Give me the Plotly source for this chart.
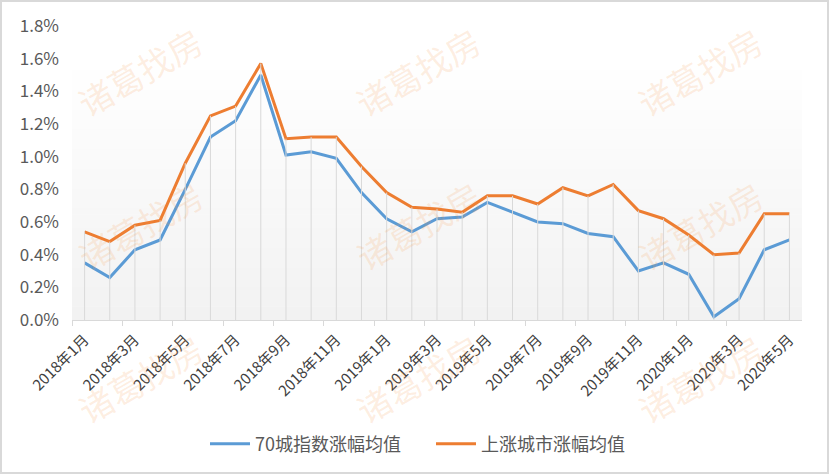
import plotly.graph_objects as go

months = ["2018年1月","2018年2月","2018年3月","2018年4月","2018年5月","2018年6月","2018年7月","2018年8月",
          "2018年9月","2018年10月","2018年11月","2018年12月","2019年1月","2019年2月","2019年3月","2019年4月",
          "2019年5月","2019年6月","2019年7月","2019年8月","2019年9月","2019年10月","2019年11月","2019年12月",
          "2020年1月","2020年2月","2020年3月","2020年4月","2020年5月"]

avg70 = [0.35,0.26,0.43,0.49,0.80,1.12,1.22,1.50,1.01,1.03,0.99,0.78,0.62,0.54,0.62,0.63,
         0.72,0.66,0.60,0.59,0.53,0.51,0.30,0.35,0.28,0.02,0.13,0.43,0.49]
avgUp = [0.54,0.48,0.58,0.61,0.96,1.25,1.31,1.57,1.11,1.12,1.12,0.94,0.78,0.69,0.68,0.66,
         0.76,0.76,0.71,0.81,0.76,0.83,0.67,0.62,0.52,0.40,0.41,0.65,0.65]

series_names = ["70城指数涨幅均值", "上涨城市涨幅均值"]
series_colors = ["#5b9bd5", "#ed7d31"]
yticks = [0, 0.2, 0.4, 0.6, 0.8, 1.0, 1.2, 1.4, 1.6, 1.8]
ytext = ["0.0%","0.2%","0.4%","0.6%","0.8%","1.0%","1.2%","1.4%","1.6%","1.8%"]
watermark = "诸葛找房"

W, H = 829, 474
ML, MR, MT, MB = 72, 27, 26, 154
PW, PH = W - ML - MR, H - MT - MB

n = len(months)
idx = list(range(n))

fig = go.Figure()

# drop lines from the higher series down to the axis
dx, dy = [], []
for i in idx:
    dx += [i, i, None]
    dy += [0, max(avg70[i], avgUp[i]), None]
fig.add_trace(go.Scatter(x=dx, y=dy, xaxis="x2", mode="lines",
                         line=dict(color="#d9d9d9", width=1), showlegend=False, hoverinfo="skip"))

for name, vals, col in zip(series_names, [avg70, avgUp], series_colors):
    fig.add_trace(go.Scatter(x=months, y=vals, mode="lines", name=name,
                             line=dict(color=col, width=3)))

shapes = []
# gradient plot-area fill
top = 0.895
N = 40
for k in range(N):
    f0 = k / N
    f1 = (k + 1) / N
    t = (f0 + f1) / 2
    c = int(round(242 + (255 - 242) * t))
    shapes.append(dict(type="rect", xref="paper", yref="paper", x0=0, x1=1,
                       y0=f0 * top, y1=f1 * top + 0.002, fillcolor=f"rgb({c},{c},{c})",
                       line=dict(width=0), layer="below"))
# outer border
shapes.append(dict(type="rect", xref="paper", yref="paper",
                   x0=(-ML + 1) / PW, x1=1 + (MR - 1) / PW,
                   y0=(-MB + 1) / PH, y1=1 + (MT - 1) / PH,
                   line=dict(color="#d9d9d9", width=2), fillcolor="rgba(0,0,0,0)", layer="above"))

annotations = []
for xp in [140, 418, 700]:
    for yp in [72, 225, 378]:
        annotations.append(dict(text=watermark, xref="paper", yref="paper",
                                x=(xp - ML) / PW, y=(MT + PH - yp) / PH,
                                xanchor="center", yanchor="middle",
                                showarrow=False, textangle=-30,
                                font=dict(size=34, color="rgba(247,150,70,0.16)",
                                          family="Noto Sans CJK SC")))

fig.update_layout(
    width=W, height=H,
    margin=dict(l=ML, r=MR, t=MT, b=MB),
    paper_bgcolor="white", plot_bgcolor="rgba(0,0,0,0)",
    font=dict(family="Noto Sans CJK SC", color="#595959"),
    xaxis=dict(type="category", categoryorder="array", categoryarray=months,
               range=[-0.5, n - 0.5], tickmode="array", tickvals=months[::2],
               tickangle=-45, tickfont=dict(size=15, color="#404040"),
               showline=True, linecolor="#d9d9d9", linewidth=1, ticks="",
               showgrid=False, zeroline=False, ticklabelstandoff=4),
    xaxis2=dict(overlaying="x", anchor="y", side="bottom", type="linear",
                range=[-0.5, n - 0.5], tickmode="array",
                tickvals=[i - 0.5 for i in range(0, n - 1, 2)],
                ticks="outside", ticklen=5, tickcolor="#d9d9d9", tickwidth=1,
                showticklabels=False, showgrid=False, zeroline=False, showline=False),
    yaxis=dict(range=[0, 1.8], tickmode="array", tickvals=yticks, ticktext=ytext,
               showgrid=False, zeroline=False, showline=False, ticks="",
               tickfont=dict(size=17, color="#595959"), ticklabelstandoff=12),
    legend=dict(orientation="h", x=(431 - ML) / PW, xanchor="center", y=(MT + PH - 444) / PH,
                yanchor="middle", font=dict(size=18, color="#595959"),
                bgcolor="rgba(0,0,0,0)", itemwidth=40,
                entrywidth=171, entrywidthmode="pixels"),
    shapes=shapes, annotations=annotations,
)

fig.write_html("out.html", post_script="document.body.style.margin='0';",
               config={"displayModeBar": False})
